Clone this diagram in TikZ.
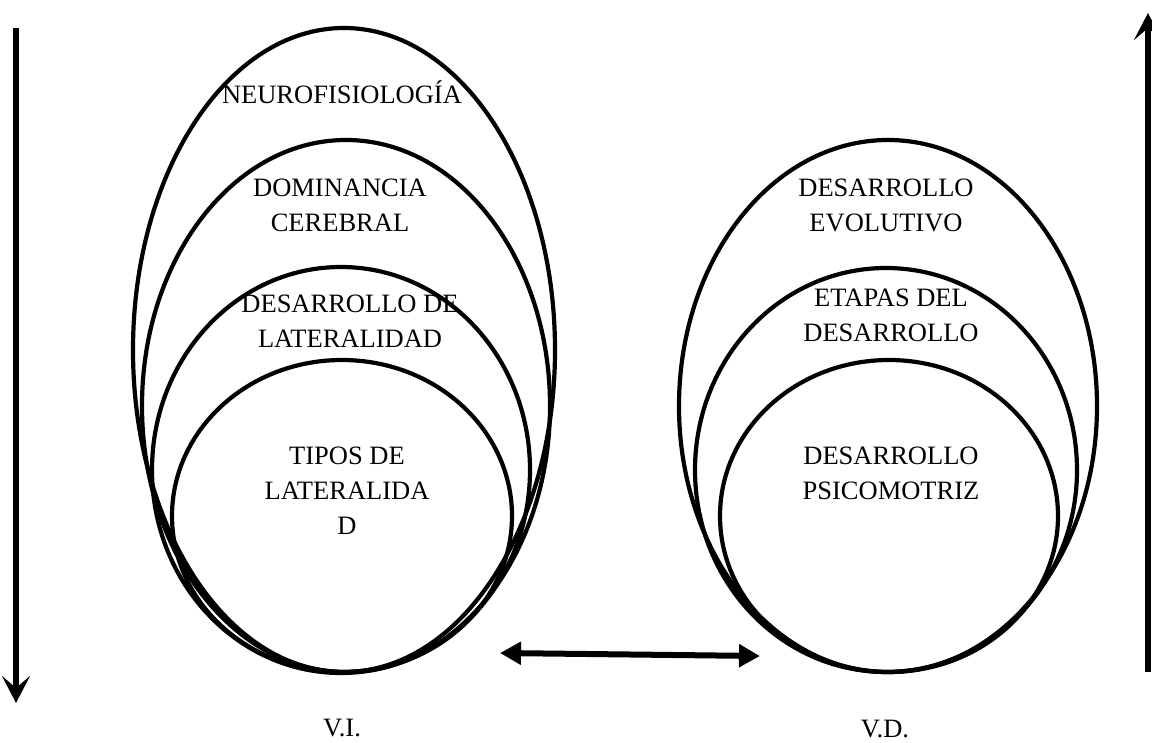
\documentclass[tikz,border=0pt]{standalone}
\usepackage{fontspec}
\setmainfont{Liberation Serif}
\usetikzlibrary{arrows.meta}
\begin{document}
\begin{tikzpicture}[x=1pt,y=-1pt,
  ring/.style={line width=4.2pt},
  lbl/.style={anchor=south,inner sep=0pt,align=center,font=\fontsize{26.5}{35}\selectfont},
  vbar/.style={line width=6pt,-{Stealth[length=27pt,width=28pt,inset=12pt]}},
  hbar/.style={line width=6pt,{Triangle[length=21pt,width=22pt]}-{Triangle[length=21pt,width=22pt]}}]
\fill[white] (0,0) rectangle (1152,743);
\useasboundingbox (0,0) rectangle (1152,743);
% left group
\draw[ring] (344,350) ellipse [x radius=211pt, y radius=322pt];
\draw[ring] (346,406) ellipse [x radius=204pt, y radius=266pt];
\draw[ring] (341,470) ellipse [x radius=189pt, y radius=203pt];
\draw[ring] (342,516) ellipse [x radius=170pt, y radius=156pt];
% right group
\draw[ring] (888,406) ellipse [x radius=209pt, y radius=266pt];
\draw[ring] (886,470) ellipse [x radius=191pt, y radius=202pt];
\draw[ring] (889,516) ellipse [x radius=169pt, y radius=156pt];
% labels
\node[lbl] (neuro) at (342,104) {NEUROFISIOLOGÍA};
\node[lbl] (domin) at (340,232) {DOMINANCIA\\CEREBRAL};
\node[lbl] (deslat) at (350,348) {DESARROLLO DE\\LATERALIDAD};
\node[lbl] (tipos) at (347,535) {TIPOS DE\\LATERALIDA\\D};
\node[lbl] (vi) at (342,737) {V.I.};
\node[lbl] (evol) at (886,232) {DESARROLLO\\EVOLUTIVO};
\node[lbl] (etapas) at (891,342) {ETAPAS DEL\\DESARROLLO};
\node[lbl] (psico) at (891,500) {DESARROLLO\\PSICOMOTRIZ};
\node[lbl] (vd) at (885,738) {V.D.};
% arrows
\coordinate (la1) at (16,28);
\coordinate (la2) at (16,703);
\coordinate (ra1) at (1148,672);
\coordinate (ra2) at (1148,13);
\coordinate (ha1) at (500,653);
\coordinate (ha2) at (760,656);
\draw[vbar] (la1) -- (la2);
\draw[vbar] (ra1) -- (ra2);
\draw[hbar] (ha1) -- (ha2);
\end{tikzpicture}
\end{document}
